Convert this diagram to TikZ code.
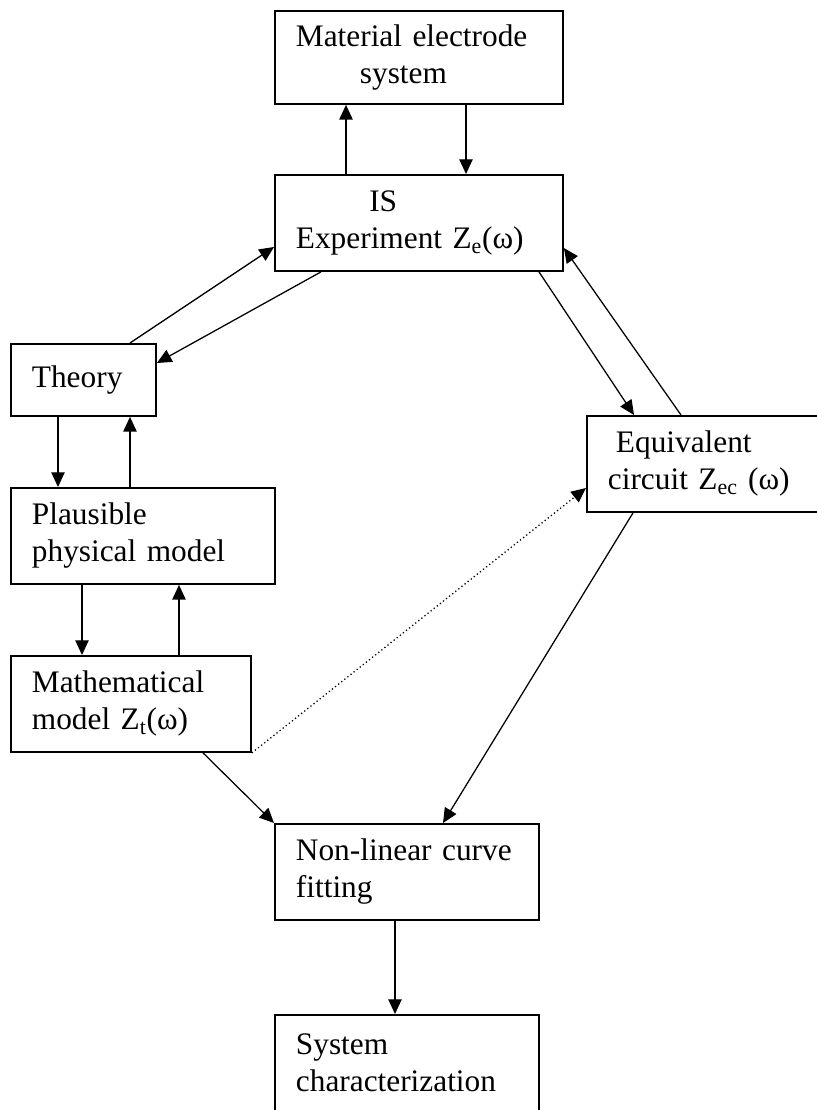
\documentclass[tikz,border=0pt]{standalone}
\usepackage{fontspec}
\setmainfont{Liberation Serif}
\usetikzlibrary{arrows.meta}
\tikzset{box/.style={draw, line width=1.4pt, anchor=north west, align=left,
                     inner xsep=15.75pt, inner ysep=0pt,
                     font=\fontsize{23.5}{27.75}\selectfont},
         edge/.style={-{Triangle[length=11pt,width=10pt]}, line width=0.95pt},
         dots/.style={edge, dotted}
}

\begin{document}
\begin{tikzpicture}[x=0.75pt, y=-0.75pt]
    \useasboundingbox (0,0) rectangle (817,1110);
    \clip (0,0) rectangle (817,1110);

    \node[box, text width=184.5pt, minimum width=216pt, minimum height=69.75pt] (Mat) at (274,10) {Material electrode\\\hspace*{48pt}system};
    \node[box, text width=184.5pt, minimum width=216pt, minimum height=72pt] (IS) at (274,174) {\hspace*{55pt}IS\\Experiment Z\textsubscript{e}(ω)};
    \node[box, text width=77.25pt, minimum width=108.75pt, minimum height=54pt] (Th) at (10,343) {Theory};
    \node[box, text width=166.5pt, minimum width=198pt, minimum height=72pt] (PM) at (10,487) {Plausible\\physical model};
    \node[box, text width=148.5pt, minimum width=180pt, minimum height=72pt] (MM) at (10,655) {Mathematical\\model Z\textsubscript{t}(ω)};
    \node[box, text width=163.5pt, minimum width=195pt, minimum height=72pt] (EC) at (586,415) {\hspace*{6pt}Equivalent\\circuit Z\textsubscript{ec} (ω)};
    \node[box, text width=166.5pt, minimum width=198pt, minimum height=72pt] (NL) at (274,823) {Non-linear curve\\fitting};
    \node[box, text width=166.5pt, minimum width=198pt, minimum height=72pt] (SC) at (274,1014) {System\\characterization};

    \draw[edge] (IS.north -| 346,0) -- (Mat.south -| 346,0);
    \draw[edge] (Mat.south -| 466,0) -- (IS.north -| 466,0);
    \draw[edge] (Th.north -| 130,0) -- (IS.west |- 0,247);
    \draw[edge] (IS.south -| 321,0) -- (Th.east |- 0,363);
    \draw[edge] (IS.south -| 539,0) -- (EC.north -| 634,0);
    \draw[edge] (EC.north -| 681,0) -- (IS.east |- 0,248);
    \draw[edge] (Th.south -| 58,0) -- (PM.north -| 58,0);
    \draw[edge] (PM.north -| 130,0) -- (Th.south -| 130,0);
    \draw[edge] (PM.south -| 82,0) -- (MM.north -| 82,0);
    \draw[edge] (MM.north -| 179,0) -- (PM.south -| 179,0);
    \draw[dots] (MM.south east) -- (EC.west |- 0,488);
    \draw[edge] (MM.south -| 203,0) -- (NL.north west);
    \draw[edge] (EC.south -| 633,0) -- (NL.north -| 443,0);
    \draw[edge] (NL.south -| 395,0) -- (SC.north -| 395,0);
\end{tikzpicture}
\end{document}
